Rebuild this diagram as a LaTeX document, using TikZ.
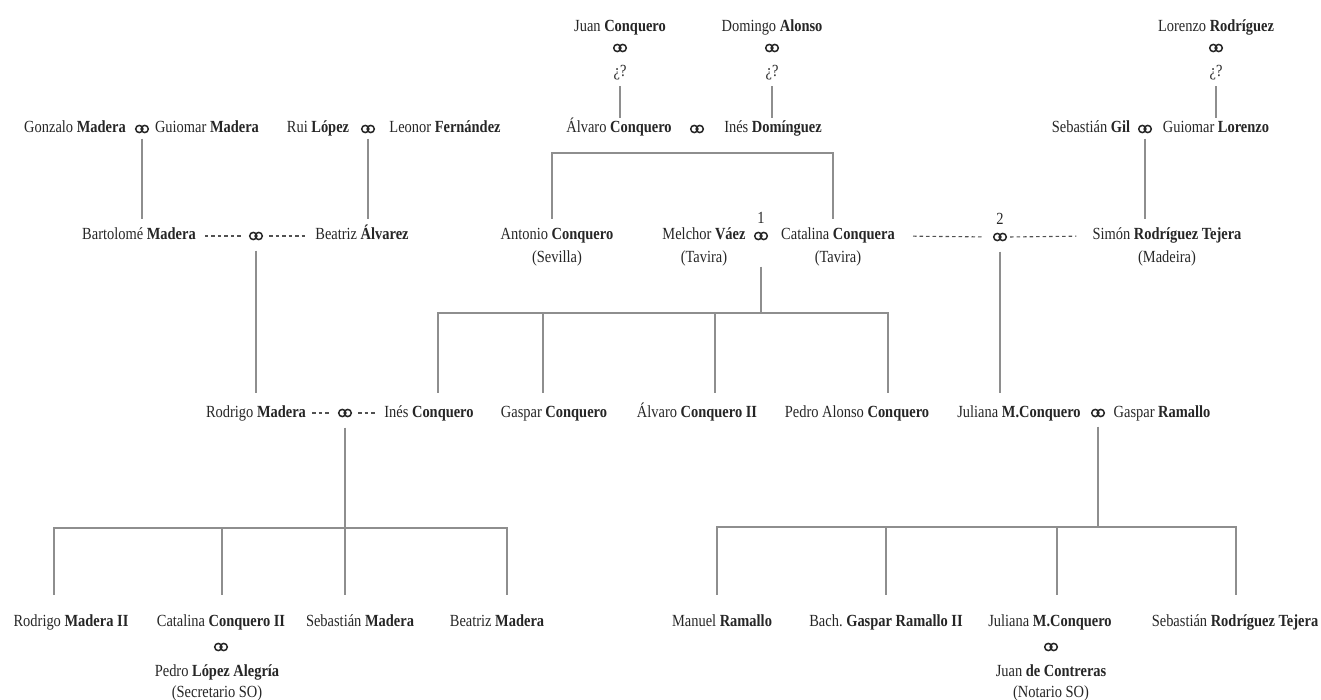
\documentclass[tikz,border=0pt]{standalone}
\usepackage{fontspec}
\setmainfont{Liberation Serif}[FakeStretch=0.85]
\usetikzlibrary{calc}

\definecolor{namegray}{HTML}{262626}
\definecolor{linegray}{HTML}{8E8E8E}

\tikzset{
  person/.style={inner sep=1pt, text=namegray, font=\fontsize{17}{20}\selectfont,
                 text height=11pt, text depth=3pt},
  rings/.style={minimum width=16pt, minimum height=11pt, inner sep=0pt,
    path picture={\draw[namegray, line width=1.5pt]
      ([xshift=-2.7pt]path picture bounding box.center) circle (3.6pt)
      ([xshift=2.7pt]path picture bounding box.center) circle (3.6pt);}},
  kin/.style={draw=linegray, line width=1.1pt},
  wedlock/.style={draw=namegray!80, line width=1.1pt, dash pattern=on 3.5pt off 3pt},
}

\begin{document}
\begin{tikzpicture}[x=1pt,y=-1pt]
  \useasboundingbox (0,0) rectangle (1321,700);
  %% Draw the oldest couples
  \node[person] (juan) at (620,28) {Juan \textbf{Conquero}};
  \node[rings] (juanRing) at (620,48) {};
  \node[person] (juanQ) at (620,73) {¿?};
  \node[person] (domingo) at (772,28) {Domingo \textbf{Alonso}};
  \node[rings] (domingoRing) at (772,48) {};
  \node[person] (domingoQ) at (772,73) {¿?};
  \node[person] (lorenzo) at (1216,28) {Lorenzo \textbf{Rodríguez}};
  \node[rings] (lorenzoRing) at (1216,48) {};
  \node[person] (lorenzoQ) at (1216,73) {¿?};
  %% Draw the second row
  \node[person] (gonzalo) at (75,129) {Gonzalo \textbf{Madera}};
  \node[rings] (gmRing) at (142,129) {};
  \node[person] (guiomarM) at (207,129) {Guiomar \textbf{Madera}};
  \node[person] (rui) at (318,129) {Rui \textbf{López}};
  \node[rings] (rlRing) at (368,129) {};
  \node[person] (leonor) at (445,129) {Leonor \textbf{Fernández}};
  \node[person] (alvaro) at (619,129) {Álvaro \textbf{Conquero}};
  \node[rings] (aiRing) at (697,129) {};
  \node[person] (ines) at (773,129) {Inés \textbf{Domínguez}};
  \node[person] (sebGil) at (1091,129) {Sebastián \textbf{Gil}};
  \node[rings] (sgRing) at (1145,129) {};
  \node[person] (guiomarL) at (1216,129) {Guiomar \textbf{Lorenzo}};
  %% Draw the third row
  \node[person] (bartolome) at (139,236) {Bartolomé \textbf{Madera}};
  \node[rings] (bbRing) at (256,236) {};
  \node[person] (beatrizA) at (362,236) {Beatriz \textbf{Álvarez}};
  \node[person] (antonio) at (557,236) {Antonio \textbf{Conquero}};
  \node[person] (antonioP) at (557,259) {(Sevilla)};
  \node[person] (melchor) at (704,236) {Melchor \textbf{Váez}};
  \node[person] (melchorP) at (704,259) {(Tavira)};
  \node[rings] (ringOne) at (761,236) {};
  \node[person] (one) at (761,220) {1};
  \node[person] (catalina) at (838,236) {Catalina \textbf{Conquera}};
  \node[person] (catalinaP) at (838,259) {(Tavira)};
  \node[rings] (ringTwo) at (1000,237) {};
  \node[person] (two) at (1000,221) {2};
  \node[person] (simon) at (1167,236) {Simón \textbf{Rodríguez Tejera}};
  \node[person] (simonP) at (1167,259) {(Madeira)};
  %% Draw the fourth row
  \node[person] (rodrigo) at (256,413) {Rodrigo \textbf{Madera}};
  \node[rings] (riRing) at (345,413) {};
  \node[person] (inesC) at (429,413) {Inés \textbf{Conquero}};
  \node[person] (gasparC) at (554,413) {Gaspar \textbf{Conquero}};
  \node[person] (alvaroII) at (697,413) {Álvaro \textbf{Conquero II}};
  \node[person] (pedroA) at (857,413) {Pedro Alonso \textbf{Conquero}};
  \node[person] (julianaM) at (1019,413) {Juliana \textbf{M.Conquero}};
  \node[rings] (jgRing) at (1098,413) {};
  \node[person] (gasparR) at (1162,413) {Gaspar \textbf{Ramallo}};
  %% Draw the youngest row
  \node[person] (rodrigoII) at (71,622) {Rodrigo \textbf{Madera II}};
  \node[person] (catalinaII) at (221,622) {Catalina \textbf{Conquero II}};
  \node[rings] (cpRing) at (221,647) {};
  \node[person] (pedroL) at (217,672) {Pedro \textbf{López Alegría}};
  \node[person] (pedroLP) at (217,693) {(Secretario SO)};
  \node[person] (sebM) at (360,622) {Sebastián \textbf{Madera}};
  \node[person] (beatrizM) at (497,622) {Beatriz \textbf{Madera}};
  \node[person] (manuel) at (722,622) {Manuel \textbf{Ramallo}};
  \node[person] (bachG) at (886,622) {Bach.\ \textbf{Gaspar Ramallo II}};
  \node[person] (julianaII) at (1050,622) {Juliana \textbf{M.Conquero}};
  \node[rings] (jcRing) at (1051,647) {};
  \node[person] (juanC) at (1051,672) {Juan \textbf{de Contreras}};
  \node[person] (juanCP) at (1051,693) {(Notario SO)};
  \node[person] (sebR) at (1235,622) {Sebastián \textbf{Rodríguez Tejera}};
  %% Draw the marriages
  \draw[wedlock, shorten <=8pt, shorten >=6pt] (bartolome.east) -- (bbRing.west);
  \draw[wedlock, shorten <=5pt, shorten >=8pt] (bbRing.east) -- (beatrizA.west);
  \draw[wedlock, shorten <=5pt, shorten >=6pt] (rodrigo.east) -- (riRing.west);
  \draw[wedlock, shorten <=5pt, shorten >=6pt] (riRing.east) -- (inesC.west);
  \draw[wedlock, shorten <=17pt, shorten >=9pt] (catalina.east) -- (ringTwo.west);
  \draw[wedlock, shorten <=2pt, shorten >=15pt] (ringTwo.east) -- (simon.west);
  %% Draw the descent
  \coordinate (barA) at (700,153);
  \coordinate (barB) at (761,313);
  \coordinate (barC) at (345,528);
  \coordinate (barD) at (1098,527);
  \begin{scope}[every path/.style={kin}]
    \draw[shorten <=5pt, shorten >=3pt] (juanQ.south) -- (juanQ.south |- alvaro.north);
    \draw[shorten <=5pt, shorten >=3pt] (domingoQ.south) -- (domingoQ.south |- ines.north);
    \draw[shorten <=5pt, shorten >=3pt] (lorenzoQ.south) -- (lorenzoQ.south |- guiomarL.north);
    \draw[shorten <=4pt, shorten >=9pt] (gmRing.south) -- (gmRing.south |- bartolome.north);
    \draw[shorten <=4pt, shorten >=9pt] (rlRing.south) -- (rlRing.south |- beatrizA.north);
    \draw[shorten <=4pt, shorten >=9pt] (sgRing.south) -- (sgRing.south |- simon.north);
    \draw ($(antonio.north)+(-5,-9)$) |- (barA) -| ($(catalina.north)+(-5,-9)$);
    \draw[shorten <=9pt, shorten >=12pt] (bbRing.south) -- (bbRing.south |- rodrigo.north);
    \draw[shorten <=9pt, shorten >=12pt] (ringTwo.south) -- (ringTwo.south |- julianaM.north);
    \draw[shorten <=25pt] (ringOne.south) -- (barB);
    \draw ($(inesC.north)+(9,-12)$) |- (barB) -| ($(pedroA.north)+(31,-12)$);
    \draw ($(gasparC.north)+(-11,-12)$) coordinate (gc) -- (gc |- barB);
    \draw ($(alvaroII.north)+(18,-12)$) coordinate (ac) -- (ac |- barB);
    \draw[shorten <=9pt, shorten >=19pt] (riRing.south) -- (riRing.south |- sebM.north);
    \draw ($(rodrigoII.north)+(-17,-19)$) |- (barC) -| ($(beatrizM.north)+(10,-19)$);
    \draw ($(catalinaII.north)+(1,-19)$) coordinate (cc) -- (cc |- barC);
    \draw[shorten <=8pt] (jgRing.south) -- (barD);
    \draw ($(manuel.north)+(-5,-19)$) |- (barD) -| ($(sebR.north)+(1,-19)$);
    \draw ($(bachG.north)+(0,-19)$) coordinate (bc) -- (bc |- barD);
    \draw ($(julianaII.north)+(7,-19)$) coordinate (jc) -- (jc |- barD);
  \end{scope}
\end{tikzpicture}
\end{document}
